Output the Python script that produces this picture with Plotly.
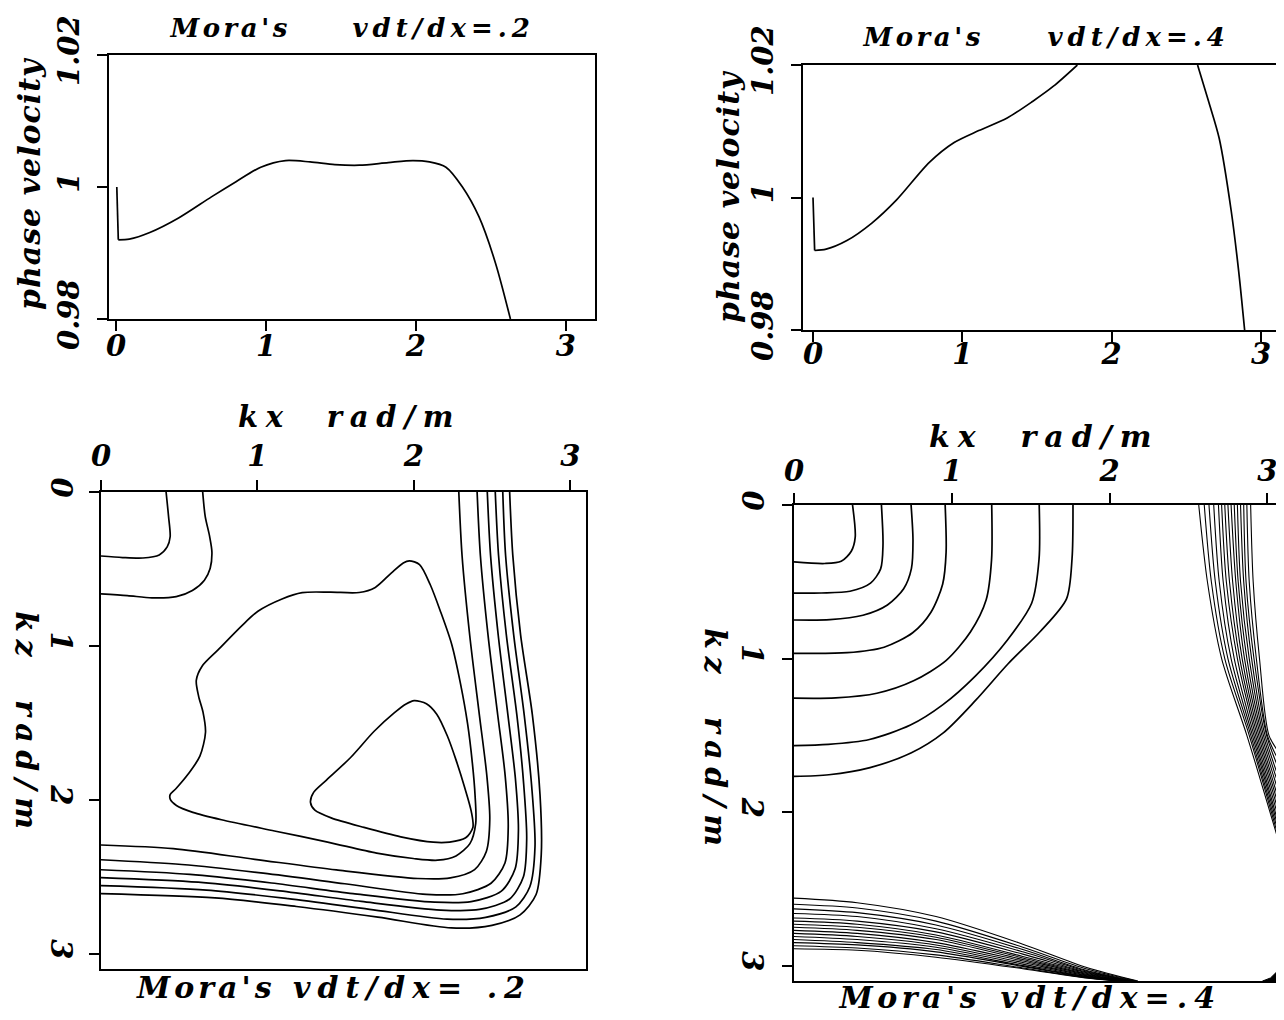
import json
import plotly.graph_objects as go

# ---------------- data: top-left (vdt/dx=.2) phase velocity vs kx ----------------
tl_kx = [0.005, 0.015, 0.088, 0.225, 0.417, 0.636, 0.80, 0.965, 1.13, 1.294, 1.459,
         1.623, 1.815, 1.98, 2.09, 2.20, 2.31, 2.42, 2.53, 2.63]
tl_v = [1.000, 0.9920, 0.9921, 0.9931, 0.9953, 0.9985, 1.0008, 1.0030, 1.0040, 1.0038,
        1.0034, 1.0033, 1.0037, 1.0040, 1.0038, 1.0030, 1.0000, 0.9955, 0.9885, 0.9800]

# ---------------- data: top-right (vdt/dx=.4) ----------------
tr_kx_a = [0.0, 0.011, 0.088, 0.227, 0.392, 0.558, 0.779, 0.945, 1.11, 1.30, 1.47, 1.61, 1.77]
tr_v_a = [1.000, 0.9920, 0.9922, 0.9935, 0.9961, 0.9996, 1.0053, 1.0083, 1.0101, 1.0120,
          1.0145, 1.0168, 1.0200]
tr_kx_b = [2.575, 2.65, 2.72, 2.80, 2.85, 2.89]
tr_v_b = [1.020, 1.0144, 1.0089, 0.9980, 0.9889, 0.9800]

ticks_k = [0, 1, 2, 3]
ticks_v = [0.98, 1.0, 1.02]
ticks_v_text = ["0.98", "1", "1.02"]

# ---------------- data: bottom-left contours (kx, kz) ----------------
bl_contours_kx = [
    [0.416, 0.432, 0.442, 0.423, 0.372, 0.268, 0.138, 0.0],
    [0.65, 0.666, 0.694, 0.709, 0.698, 0.661, 0.584, 0.481, 0.325, 0.169, 0.0],
    [1.971, 2.036, 2.104, 2.172, 2.241, 2.298, 2.343, 2.374, 2.391, 2.395, 2.358, 2.269, 2.152,
     1.996, 1.762, 1.449, 1.109, 0.770, 0.587, 0.482, 0.443, 0.442, 0.480, 0.556, 0.632, 0.668,
     0.652, 0.624, 0.609, 0.646, 0.748, 0.901, 1.003, 1.157, 1.286, 1.468, 1.650, 1.753, 1.855,
     1.932, 1.971],
    [2.002, 2.080, 2.146, 2.214, 2.269, 2.325, 2.367, 2.377, 2.331, 2.228, 2.124, 1.916, 1.681,
     1.471, 1.367, 1.339, 1.359, 1.441, 1.594, 1.746, 1.874, 1.950, 2.002],
    [2.287, 2.308, 2.357, 2.419, 2.466, 2.485, 2.463, 2.388, 2.233, 2.025, 1.504, 0.983, 0.462, 0.0],
    [2.404, 2.425, 2.474, 2.536, 2.583, 2.603, 2.582, 2.493, 2.313, 2.079, 1.558, 1.037, 0.516, 0.0],
    [2.469, 2.490, 2.539, 2.601, 2.649, 2.668, 2.647, 2.559, 2.366, 2.132, 1.611, 1.090, 0.569, 0.0],
    [2.520, 2.541, 2.591, 2.658, 2.701, 2.721, 2.700, 2.612, 2.419, 2.172, 1.664, 1.143, 0.622, 0.0],
    [2.568, 2.586, 2.638, 2.705, 2.753, 2.774, 2.741, 2.652, 2.459, 2.212, 1.717, 1.196, 0.675, 0.0],
    [2.612, 2.632, 2.682, 2.757, 2.806, 2.814, 2.781, 2.679, 2.499, 2.239, 1.770, 1.249, 0.728, 0.0],
]
bl_contours_kz = [
    [0.0, 0.162, 0.291, 0.357, 0.409, 0.429, 0.426, 0.416],
    [0.0, 0.158, 0.287, 0.391, 0.495, 0.573, 0.640, 0.680, 0.688, 0.673, 0.662],
    [0.447, 0.472, 0.601, 0.782, 0.988, 1.247, 1.506, 1.765, 1.973, 2.155, 2.285, 2.365, 2.393,
     2.382, 2.347, 2.275, 2.203, 2.130, 2.082, 2.037, 1.998, 1.967, 1.927, 1.835, 1.717, 1.561,
     1.431, 1.328, 1.224, 1.132, 1.026, 0.868, 0.775, 0.695, 0.654, 0.651, 0.653, 0.620, 0.527,
     0.461, 0.447],
    [1.356, 1.376, 1.444, 1.586, 1.741, 1.922, 2.077, 2.181, 2.247, 2.275, 2.276, 2.241, 2.180,
     2.118, 2.068, 2.017, 1.952, 1.872, 1.727, 1.555, 1.436, 1.378, 1.356],
    [0.0, 0.416, 0.934, 1.453, 1.842, 2.127, 2.336, 2.454, 2.508, 2.512, 2.456, 2.387, 2.318, 2.294],
    [0.0, 0.414, 0.932, 1.451, 1.840, 2.177, 2.411, 2.543, 2.611, 2.615, 2.546, 2.477, 2.421, 2.390],
    [0.0, 0.412, 0.931, 1.450, 1.865, 2.202, 2.449, 2.594, 2.662, 2.666, 2.610, 2.541, 2.485, 2.455],
    [0.0, 0.411, 0.930, 1.449, 1.890, 2.253, 2.500, 2.645, 2.713, 2.717, 2.661, 2.592, 2.536, 2.506],
    [0.0, 0.411, 0.930, 1.448, 1.915, 2.304, 2.565, 2.696, 2.764, 2.776, 2.712, 2.643, 2.587, 2.558],
    [0.0, 0.410, 0.929, 1.447, 1.966, 2.356, 2.616, 2.748, 2.816, 2.833, 2.763, 2.694, 2.638, 2.610],
]

# ---------------- data: bottom-right contours (vdt/dx=.4) ----------------
br_arcs_kx = [
    [0.371, 0.388, 0.363, 0.299, 0.195, 0.0],
    [0.554, 0.564, 0.549, 0.485, 0.355, 0.173, 0.0],
    [0.742, 0.754, 0.744, 0.695, 0.592, 0.437, 0.228, 0.0],
    [0.958, 0.964, 0.942, 0.867, 0.752, 0.571, 0.337, 0.0],
    [1.253, 1.252, 1.218, 1.118, 0.965, 0.758, 0.525, 0.264, 0.0],
    [1.554, 1.553, 1.506, 1.354, 1.149, 0.944, 0.738, 0.478, 0.218, 0.0],
    [1.768, 1.762, 1.727, 1.562, 1.357, 1.152, 0.948, 0.741, 0.482, 0.221, 0.0],
]
br_arcs_kz = [
    [0.0, 0.209, 0.301, 0.367, 0.381, 0.371],
    [0.0, 0.260, 0.416, 0.509, 0.562, 0.573, 0.574],
    [0.0, 0.231, 0.414, 0.545, 0.651, 0.718, 0.747, 0.749],
    [0.0, 0.307, 0.516, 0.700, 0.832, 0.926, 0.962, 0.966],
    [0.0, 0.356, 0.617, 0.827, 1.012, 1.145, 1.226, 1.256, 1.258],
    [0.0, 0.352, 0.640, 0.877, 1.114, 1.300, 1.433, 1.527, 1.559, 1.567],
    [0.0, 0.350, 0.611, 0.822, 1.034, 1.271, 1.482, 1.615, 1.710, 1.757, 1.768],
]

# right-hand fan: kx at kz = 0, 0.5, 1.0, 1.5, then kz where it meets the right edge
br_rfan_kx_0 = [2.565, 2.60, 2.63, 2.66, 2.69, 2.71, 2.73, 2.75, 2.77, 2.79, 2.81, 2.83, 2.85, 2.87, 2.894]
br_rfan_kx_05 = [2.62, 2.645, 2.67, 2.695, 2.72, 2.74, 2.76, 2.78, 2.80, 2.815, 2.83, 2.85, 2.865, 2.885, 2.91]
br_rfan_kx_10 = [2.71, 2.73, 2.75, 2.77, 2.79, 2.81, 2.825, 2.84, 2.855, 2.87, 2.885, 2.90, 2.915, 2.93, 2.95]
br_rfan_kx_15 = [2.87, 2.885, 2.895, 2.905, 2.915, 2.925, 2.935, 2.945, 2.955, 2.965, 2.975, 2.985, 2.995, 3.0, 3.01]
br_rfan_kz_end = [2.22, 2.20, 2.17, 2.14, 2.11, 2.07, 2.03, 1.99, 1.95, 1.90, 1.85, 1.80, 1.74, 1.68, 1.62]
br_right_edge = 3.08

# bottom fan: kz at kx = 0, 0.4, 0.9, 1.45, 1.85, then kx where it meets the bottom edge
br_bfan_kz_0 = [2.56, 2.60, 2.63, 2.66, 2.69, 2.71, 2.73, 2.75, 2.77, 2.79, 2.81, 2.83, 2.85, 2.87, 2.89]
br_bfan_kz_04 = [2.59, 2.625, 2.655, 2.68, 2.71, 2.73, 2.75, 2.77, 2.79, 2.81, 2.83, 2.85, 2.865, 2.885, 2.90]
br_bfan_kz_09 = [2.68, 2.71, 2.735, 2.76, 2.78, 2.80, 2.815, 2.83, 2.85, 2.865, 2.88, 2.895, 2.91, 2.93, 2.945]
br_bfan_kz_145 = [2.86, 2.88, 2.895, 2.91, 2.925, 2.94, 2.95, 2.96, 2.97, 2.98, 2.99, 3.0, 3.005, 3.015, 3.02]
br_bfan_kz_185 = [3.01, 3.02, 3.03, 3.035, 3.04, 3.045, 3.05, 3.055, 3.06, 3.065, 3.07, 3.072, 3.075, 3.078, 3.08]
br_bfan_kx_end = [2.18, 2.17, 2.16, 2.15, 2.14, 2.13, 2.12, 2.11, 2.10, 2.09, 2.08, 2.075, 2.07, 2.065, 2.06]
br_bottom_edge = 3.1

# dense corner patch at bottom-right
br_corner_kx = [2.97, 3.02, 3.06, 3.08, 3.08, 2.97]
br_corner_kz = [3.1, 3.08, 3.04, 3.0, 3.1, 3.1]

# ---------------- figure ----------------
W, H = 1284, 1020
FONT = "DejaVu Serif"
LW = 1.7

fig = go.Figure()


def line(x, y, xa, ya, shape="spline", width=LW):
    fig.add_trace(go.Scatter(x=x, y=y, mode="lines", xaxis=xa, yaxis=ya,
                             line=dict(color="black", width=width, shape=shape,
                                       smoothing=0.8),
                             hoverinfo="skip", showlegend=False, connectgaps=False))


line(tl_kx[:2], tl_v[:2], "x", "y", shape="linear")
line(tl_kx[1:], tl_v[1:], "x", "y")
line(tr_kx_a[:2], tr_v_a[:2], "x2", "y2", shape="linear")
line(tr_kx_a[1:], tr_v_a[1:], "x2", "y2")
line(tr_kx_b, tr_v_b, "x2", "y2")

for cx, cz in zip(bl_contours_kx, bl_contours_kz):
    line(cx, cz, "x3", "y3")

for cx, cz in zip(br_arcs_kx, br_arcs_kz):
    line(cx, cz, "x4", "y4")

for i in range(len(br_rfan_kx_0)):
    line([br_rfan_kx_0[i], br_rfan_kx_05[i], br_rfan_kx_10[i], br_rfan_kx_15[i], br_right_edge],
         [0.0, 0.5, 1.0, 1.5, br_rfan_kz_end[i]], "x4", "y4", width=1.1)

for i in range(len(br_bfan_kz_0)):
    line([0.0, 0.4, 0.9, 1.45, 1.85, br_bfan_kx_end[i]],
         [br_bfan_kz_0[i], br_bfan_kz_04[i], br_bfan_kz_09[i], br_bfan_kz_145[i],
          br_bfan_kz_185[i], br_bottom_edge], "x4", "y4", width=1.1)

fig.add_trace(go.Scatter(x=br_corner_kx, y=br_corner_kz, mode="lines", fill="toself",
                         fillcolor="black", line=dict(color="black", width=1),
                         xaxis="x4", yaxis="y4", hoverinfo="skip", showlegend=False))

tickfont = dict(family=FONT, size=29, color="black", style="italic", weight="bold")
axis_common = dict(showline=True, mirror=True, linecolor="black", linewidth=2,
                   showgrid=False, zeroline=False, ticks="outside", ticklen=10,
                   tickwidth=2, tickcolor="black", tickfont=tickfont, automargin=False)


def px_x(a, b):
    return [a / W, b / W]


def px_y(top, bottom):
    return [1 - bottom / H, 1 - top / H]


fig.update_layout(
    width=W, height=H, margin=dict(l=0, r=0, t=0, b=0, autoexpand=False),
    paper_bgcolor="white", plot_bgcolor="white",
    xaxis=dict(domain=px_x(101, 587), range=[-0.047, 3.194], tickvals=ticks_k,
               anchor="y", ticklabelstandoff=-10, **axis_common),
    yaxis=dict(domain=px_y(47, 311), range=[0.98, 1.02], tickvals=ticks_v,
               ticktext=ticks_v_text, tickangle=-90, anchor="x", ticklabelstandoff=6,
               **axis_common),
    xaxis2=dict(domain=px_x(795, 1278), range=[-0.067, 3.167], tickvals=ticks_k,
                anchor="y2", ticklabelstandoff=-13, **axis_common),
    yaxis2=dict(domain=px_y(57, 322), range=[0.98, 1.02], tickvals=ticks_v,
                ticktext=ticks_v_text, tickangle=-90, anchor="x2", ticklabelstandoff=6,
                **axis_common),
    xaxis3=dict(domain=px_x(93, 578), range=[0, 3.1], tickvals=ticks_k, side="top",
                anchor="y3", ticklabelstandoff=2, **axis_common),
    yaxis3=dict(domain=px_y(484, 961), range=[3.1, 0], tickvals=ticks_k, tickangle=90,
                anchor="x3", ticklabelstandoff=3, **axis_common),
    xaxis4=dict(domain=px_x(786, 1272), range=[0, 3.08], tickvals=ticks_k, side="top",
                anchor="y4", **axis_common),
    yaxis4=dict(domain=px_y(497, 973), range=[3.1, 0], tickvals=ticks_k, tickangle=90,
                anchor="x4", ticklabelstandoff=5, **axis_common),
)

lab = dict(family=FONT, size=24, color="black", style="italic", weight="bold")
letter_spacing = []


def note(text, x, y, angle=0, size=24, spacing=0):
    f = dict(lab)
    f["size"] = size
    fig.add_annotation(text=text, x=x / W, y=1 - y / H, xref="paper", yref="paper",
                       showarrow=False, textangle=angle, font=f,
                       xanchor="center", yanchor="middle")
    letter_spacing.append(spacing)


note("Mora's", 222, 20, size=26, spacing=3.5)
note("vdt/dx=.2", 435, 20, size=26, spacing=5)
note("phase velocity", 21, 175, angle=-90, size=30, spacing=1)
note("Mora's", 915, 29, size=26, spacing=3.5)
note("vdt/dx=.4", 1130, 29, size=26, spacing=5)
note("phase velocity", 720, 188, angle=-90, size=30, spacing=1)
note("kx\u00a0\u00a0rad/m", 342, 409, size=29, spacing=7.8)
note("kz\u00a0\u00a0rad/m", 19, 716, angle=90, size=30, spacing=7.5)
note("Mora's", 198, 979, size=30, spacing=4)
note("vdt/dx=\u00a0.2", 404, 979, size=30, spacing=7)
note("kx\u00a0\u00a0rad/m", 1036, 428, size=30, spacing=8)
note("kz\u00a0\u00a0rad/m", 708, 733, angle=90, size=30, spacing=7.5)
note("Mora's", 902, 989, size=30, spacing=4.5)
note("vdt/dx=.4", 1103, 989, size=30, spacing=7)

post = (
    "var sp = %s;"
    "document.querySelectorAll('g.annotation').forEach(function(g){"
    "var i = parseInt(g.getAttribute('data-index'));"
    "var t = g.querySelector('text');"
    "if (t && !isNaN(i) && sp[i]) { t.style.letterSpacing = sp[i] + 'px'; }"
    "});"
) % json.dumps(letter_spacing)

fig.write_html("out.html", post_script=post)
